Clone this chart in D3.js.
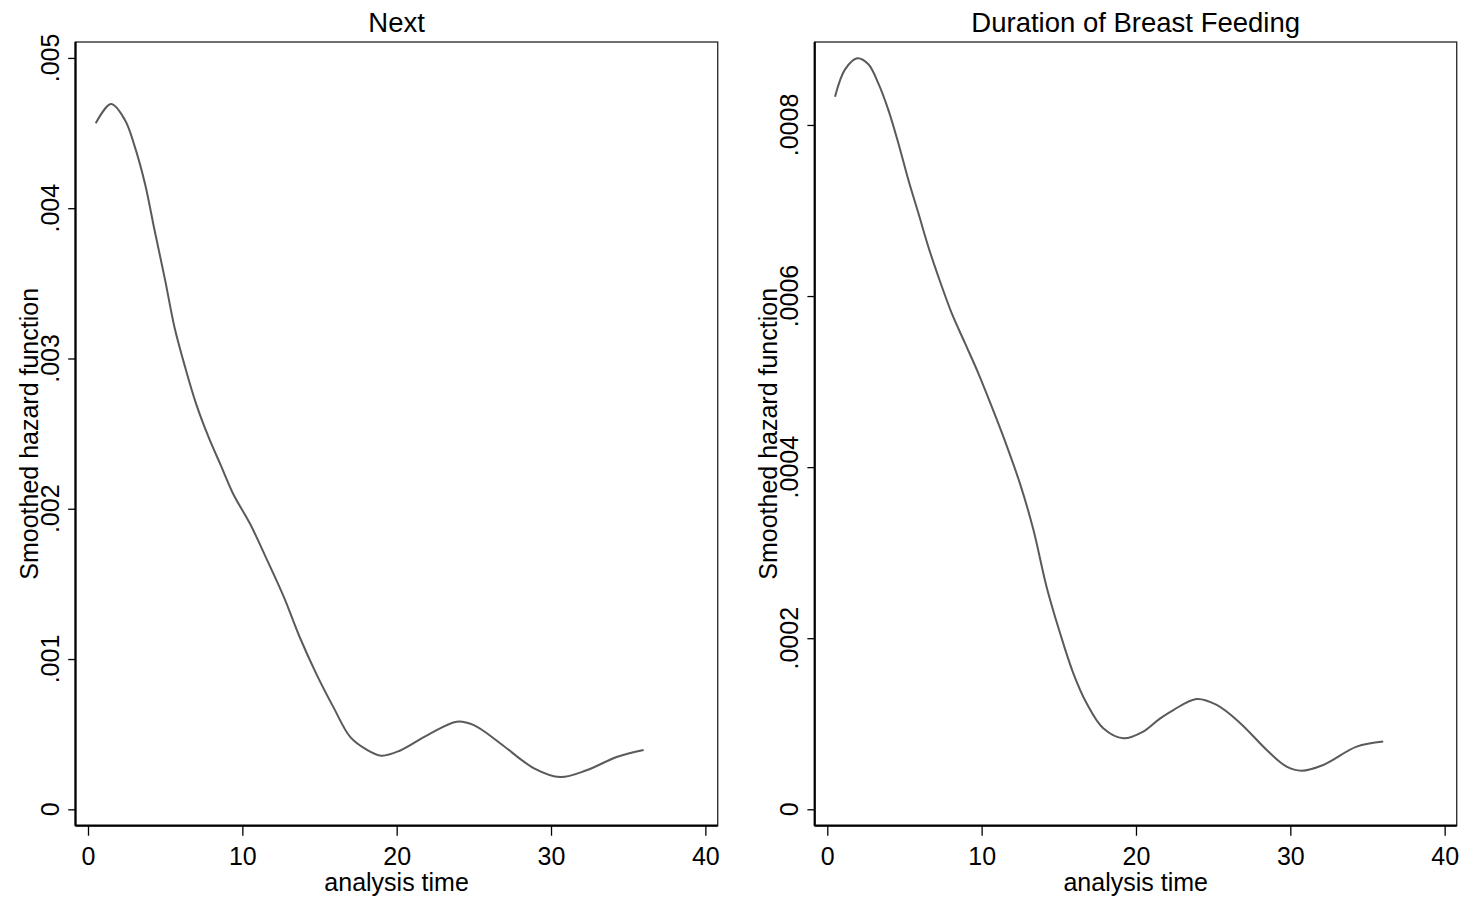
<!DOCTYPE html>
<html>
<head>
<meta charset="utf-8">
<script src="https://cdn.jsdelivr.net/npm/d3@7/dist/d3.min.js"></script>
<style>
  body { margin: 0; background: #fff; }
  text { font-family: "Liberation Sans", Arial, sans-serif; fill: #000; }
</style>
</head>
<body>
<script>
// smoothed hazard, panel "Next"
var nextTime   = [0.5, 1.5, 2.4, 3.0, 3.7, 4.3, 5.0, 5.6, 6.3, 7.0, 7.8, 8.6, 9.4, 10.5, 11.6, 12.7, 13.7, 14.8, 15.9, 17.0, 18.0, 19.0, 20.2, 22.0, 23.9, 25.0, 26.7, 28.9, 30.6, 32.3, 34.3, 36.0];
var nextHazard = [0.004565, 0.004693, 0.004586, 0.00442, 0.00416, 0.00386, 0.00352, 0.00321, 0.00294, 0.0027, 0.00248, 0.00229, 0.0021, 0.0019, 0.00166, 0.00141, 0.00115, 0.0009, 0.00068, 0.00048, 0.0004, 0.000357, 0.00039, 0.000494, 0.000583, 0.00056, 0.00044, 0.000273, 0.000215, 0.00026, 0.00035, 0.000395];

// smoothed hazard, panel "Duration of Breast Feeding"
var bfTime   = [0.5, 1.15, 1.94, 2.66, 3.3, 3.95, 4.6, 5.25, 5.9, 6.54, 7.19, 8.06, 8.92, 9.78, 10.65, 11.4, 12.48, 13.35, 14.21, 15.08, 15.94, 16.8, 17.88, 19.18, 20.47, 21.55, 22.42, 23.93, 25.23, 26.74, 28.47, 29.76, 30.73, 32.13, 34.3, 36.02];
var bfHazard = [0.000833, 0.000865, 0.000878, 0.000871, 0.000849, 0.000818, 0.000779, 0.000736, 0.000697, 0.000658, 0.000623, 0.00058, 0.000545, 0.00051, 0.000471, 0.000436, 0.000381, 0.000327, 0.00026, 0.000206, 0.000159, 0.000124, 0.0000947, 0.000083, 0.0000908, 0.000106, 0.000116, 0.000129, 0.000122, 0.000101, 0.0000694, 0.0000498, 0.0000451, 0.0000518, 0.0000732, 0.0000791];

var xTicks = [0, 10, 20, 30, 40];
var nextYTicks  = [0, 0.001, 0.002, 0.003, 0.004, 0.005];
var nextYLabels = ["0", ".001", ".002", ".003", ".004", ".005"];
var bfYTicks  = [0, 0.0002, 0.0004, 0.0006, 0.0008];
var bfYLabels = ["0", ".0002", ".0004", ".0006", ".0008"];

var W = 1466, H = 903;
var svg = d3.select("body").append("svg")
    .attr("width", W)
    .attr("height", H);

var panels = [
  { title: "Next", t: nextTime, h: nextHazard, yt: nextYTicks, yl: nextYLabels,
    left: 75.5, right: 717.7, xdom: [-0.81, 40.8], ydom: [-0.000109, 0.005106] },
  { title: "Duration of Breast Feeding", t: bfTime, h: bfHazard, yt: bfYTicks, yl: bfYLabels,
    left: 814.7, right: 1456.7, xdom: [-0.816, 40.78], ydom: [-0.0000192, 0.000897] }
];

var plotTop = 42, plotBottom = 825.7;

panels.forEach(function(p) {
    var x = d3.scaleLinear().domain(p.xdom).range([p.left, p.right]);
    var y = d3.scaleLinear().domain(p.ydom).range([plotBottom, plotTop]);
    var g = svg.append("g");

    // plot region outline
    g.append("rect")
        .attr("x", p.left).attr("y", plotTop)
        .attr("width", p.right - p.left).attr("height", plotBottom - plotTop)
        .attr("fill", "none").attr("stroke", "#333").attr("stroke-width", 1.4);

    // x axis
    var xa = g.append("g")
        .attr("transform", "translate(0," + plotBottom + ")")
        .call(d3.axisBottom(x).tickValues(xTicks).tickSize(10).tickSizeOuter(0).tickPadding(5));
    xa.select(".domain").attr("stroke", "#000").attr("stroke-width", 2.2)
        .attr("d", "M" + p.left + ",0H" + p.right);
    xa.selectAll(".tick line").attr("stroke", "#000").attr("stroke-width", 1.3);
    xa.selectAll(".tick text").attr("font-size", 25).attr("dy", null).attr("y", 39.5)
        .style("font-family", "Liberation Sans, Arial, sans-serif").attr("fill", "#000");

    // y axis (labels rotated, drawn separately)
    var ya = g.append("g")
        .attr("transform", "translate(" + p.left + ",0)")
        .call(d3.axisLeft(y).tickValues(p.yt).tickSize(7.3).tickSizeOuter(0).tickFormat(""));
    ya.select(".domain").attr("stroke", "#000").attr("stroke-width", 2.2)
        .attr("d", "M0," + plotBottom + "V" + plotTop);
    ya.selectAll(".tick line").attr("stroke", "#000").attr("stroke-width", 1.3);

    g.selectAll(".ylab")
        .data(p.yt)
        .enter().append("text")
        .attr("class", "ylab")
        .attr("transform", function(d) { return "translate(" + (p.left - 16.5) + "," + y(d) + ") rotate(-90)"; })
        .attr("text-anchor", "middle")
        .attr("font-size", 25)
        .text(function(d, i) { return p.yl[i]; });

    // axis titles
    g.append("text")
        .attr("transform", "translate(" + (p.left - 38) + "," + ((plotTop + plotBottom) / 2) + ") rotate(-90)")
        .attr("text-anchor", "middle")
        .attr("font-size", 25)
        .text("Smoothed hazard function");

    g.append("text")
        .attr("x", (p.left + p.right) / 2)
        .attr("y", 891)
        .attr("text-anchor", "middle")
        .attr("font-size", 25)
        .text("analysis time");

    g.append("text")
        .attr("x", (p.left + p.right) / 2)
        .attr("y", 32)
        .attr("text-anchor", "middle")
        .attr("font-size", 27.5)
        .text(p.title);

    // hazard curve
    var line = d3.line()
        .x(function(d, i) { return x(p.t[i]); })
        .y(function(d) { return y(d); })
        .curve(d3.curveCatmullRom.alpha(0.5));

    g.append("path")
        .datum(p.h)
        .attr("fill", "none")
        .attr("stroke", "#5a5a5a")
        .attr("stroke-width", 2)
        .attr("d", line);
});
</script>
</body>
</html>
